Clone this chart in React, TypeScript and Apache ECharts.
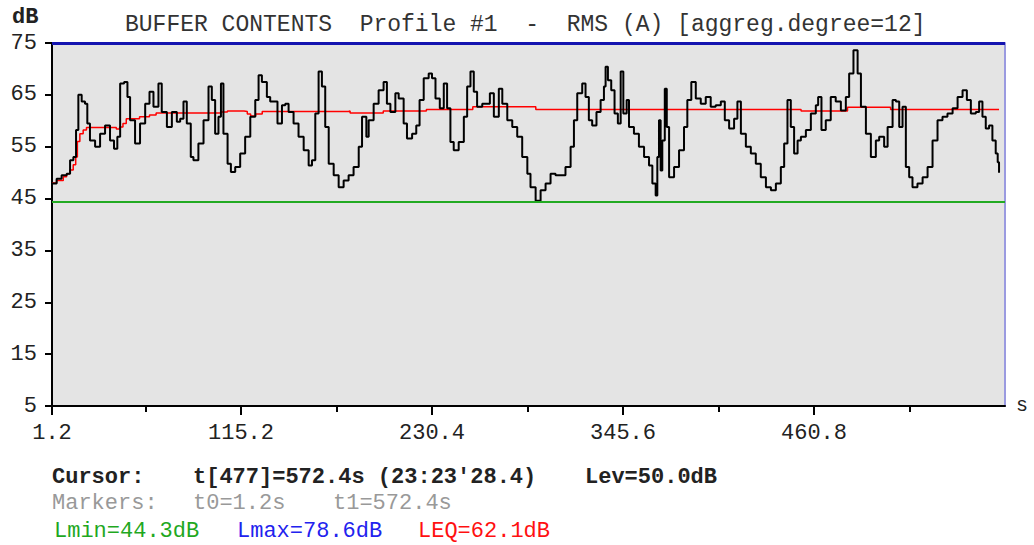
import React, { useEffect, useRef } from "react";
import * as echarts from "echarts";

const FONT = "'Liberation Mono', 'Courier New', monospace";

// Black curve: time (s) and level (dB)
const timeS: number[] = [
  1.2, 4.0, 7.0, 10.1, 12.1, 14.1, 15.7, 17.1, 19.1, 21.1, 22.5, 24.1, 27.2, 30.2, 33.2, 36.2, 38.6, 40.6, 42.3, 44.7,
  46.7, 48.3, 51.3, 54.3, 57.4, 60.0, 62.4, 65.4, 67.4, 70.5, 73.5, 76.5, 78.5, 80.5, 82.5, 84.9, 86.5, 89.5, 92.6, 95.6,
  97.6, 99.6, 101.6, 103.1, 104.6, 107.1, 109.1, 111.7, 114.7, 117.7, 120.8, 123.8, 125.8, 127.8, 130.8, 132.8, 134.8, 137.2, 139.9,
  141.9, 143.9, 146.9, 149.9, 153.0, 156.0, 158.0, 160.0, 162.0, 164.0, 166.0, 168.1, 171.1, 174.1, 177.1, 180.1, 183.1, 186.2,
  188.2, 190.8, 192.2, 195.2, 198.2, 201.2, 203.2, 205.3, 208.3, 210.3, 213.3, 215.3, 218.4, 220.9, 222.9, 225.4, 228.4, 230.4,
  232.5, 235.1, 237.5, 239.5, 241.5, 243.5, 246.5, 249.6, 251.6, 253.6, 255.6, 257.6, 260.7, 262.7, 265.3, 267.7, 270.7, 272.8,
  275.8, 278.8, 281.8, 284.8, 287.9,
  289.8, 292.9, 295.9, 298.9, 301.9, 304.9, 307.9, 310.9, 314.0, 316.0, 318.0, 321.0, 323.0, 325.0, 327.0, 329.6, 332.1, 334.1,
  335.1, 336.5, 338.5, 340.5, 342.5, 344.2, 345.8, 347.8, 349.2, 352.2, 355.2, 358.3, 361.3, 363.3, 365.3, 366.3, 367.3, 368.3,
  369.3, 370.8, 372.0, 373.4, 376.4, 379.4, 382.4, 384.4, 386.8, 389.5, 392.5, 395.5, 398.5, 401.5, 404.6, 407.0, 409.6, 412.6,
  414.6, 416.7, 419.7, 422.7, 425.7, 428.7, 431.8,
  434.8, 437.8, 440.8, 442.8, 444.8, 446.8, 448.8, 450.9, 452.9, 455.9, 458.9, 461.9, 463.3, 465.3, 467.9, 470.9, 473.9, 477.0,
  480.0, 482.0, 484.6, 487.1, 489.1, 492.1, 495.1, 498.1, 500.1, 503.1, 505.2, 508.2, 510.2, 512.2, 514.2, 516.2, 518.2, 520.2,
  523.2, 526.3, 529.3, 532.3, 535.3, 538.3, 541.3, 544.4, 547.4, 550.4, 553.0, 555.4, 558.4, 560.4, 562.4, 564.4, 566.4, 568.4,
  570.4, 571.6, 572.4,
];
const levelDb: number[] = [
  47.9, 48.8, 49.5, 49.8, 52.4, 53.0, 58.2, 65.0, 63.7, 63.3, 59.5, 56.2, 55.0, 57.5, 59.1, 56.2, 54.6, 56.9, 67.2, 67.5,
  64.6, 60.1, 55.6, 59.5, 63.3, 65.6, 62.7, 67.2, 61.7, 58.8, 61.7, 59.8, 60.4, 63.7, 59.5, 53.0, 52.4, 55.6, 60.1, 66.6,
  64.0, 57.5, 60.8, 67.2, 57.5, 51.7, 50.1, 51.1, 53.7, 56.9, 60.8, 64.0, 68.8, 67.5, 64.6, 63.7, 63.7, 59.5, 63.0,
  63.3, 61.7, 59.5, 56.9, 54.3, 51.4, 52.4, 61.4, 69.5, 66.6, 58.8, 51.7, 49.5, 47.2, 48.5, 49.5, 51.1, 55.0,
  60.8, 56.9, 60.1, 63.3, 65.9, 67.5, 63.3, 61.7, 65.3, 64.3, 59.5, 56.6, 57.5, 59.1, 64.0, 68.2, 69.1, 68.2,
  64.3, 62.4, 67.2, 62.4, 55.9, 54.3, 55.9, 60.8, 66.6, 69.5, 65.6, 62.7, 63.3, 63.3, 65.3, 60.8, 66.2, 63.3,
  60.1, 58.8, 56.9, 53.0, 49.8,
  47.2, 44.6, 46.6, 47.9, 49.8, 49.5, 49.5, 51.1, 55.0, 60.1, 65.3, 67.2, 64.6, 60.1, 59.1, 61.7, 64.0, 66.6,
  70.4, 67.8, 65.9, 61.4, 59.5, 69.5, 61.4, 64.0, 58.8, 57.5, 55.0, 53.0, 51.4, 47.9, 45.6, 53.0, 60.1, 50.4,
  56.2, 66.2, 58.8, 49.1, 51.1, 54.3, 58.8, 64.0, 67.5, 64.3, 63.3, 64.6, 62.7, 63.0, 63.7, 60.1, 58.5, 60.4,
  63.7, 57.5, 55.0, 53.7, 51.7, 49.1, 47.2,
  46.6, 47.9, 51.1, 55.6, 64.0, 58.8, 53.7, 56.2, 56.9, 58.2, 61.4, 63.0, 64.6, 58.2, 60.1, 64.6, 63.7, 62.0,
  64.6, 69.1, 73.6, 69.1, 62.7, 57.5, 53.0, 56.2, 56.9, 55.0, 58.8, 64.0, 63.7, 58.8, 62.7, 51.1, 49.1, 47.2,
  47.9, 49.1, 51.1, 56.2, 60.1, 60.8, 61.4, 62.4, 64.6, 65.9, 64.0, 61.4, 61.7, 63.7, 60.8, 58.5, 59.1, 56.2,
  53.7, 52.0, 50.0,
];

// Red running LEQ curve
const leqT: number[] = [
  1.2, 4, 8, 10, 12, 14, 15.5, 16.5, 18, 20, 22, 40, 42, 44, 46, 54, 60, 64, 103, 107, 117, 119, 121, 124, 128,
  180, 181, 200, 201, 226, 227, 254, 255, 292, 293, 452, 453, 480, 481, 506, 507, 572.4,
];
const leqDb: number[] = [
  48.0, 48.5, 49.2, 49.8, 50.5, 51.5, 53.0, 56.0, 57.5, 58.2, 58.7, 58.4, 58.8, 59.5, 60.4, 60.8, 61.1, 61.5, 61.7, 61.9, 61.8, 61.3, 60.9, 61.3, 61.8,
  61.9, 61.5, 61.5, 61.9, 61.9, 62.2, 62.2, 62.7, 62.7, 62.2, 62.2, 61.9, 61.9, 62.6, 62.6, 62.2, 62.1,
];

const LMIN = 44.3;
const Y_TOP = 75;
const xLabelValues = [1.2, 115.2, 230.4, 345.6, 460.8];
const xMinorValues = [57.6, 172.8, 288.0, 403.2, 518.4];
const yLabelValues = [5, 15, 25, 35, 45, 55, 65, 75];

export default function App() {
  const ref = useRef<HTMLDivElement>(null);
  useEffect(() => {
    if (!ref.current) return;
    const chart = echarts.init(ref.current, null, { renderer: "svg" });
    const black = timeS.map((t, i) => [t, levelDb[i]]);
    const red = leqT.map((t, i) => [t, leqDb[i]]);
    const txt = (text: string, x: number, y: number, fill: string, bold = false, size = 22) => ({
      type: "text",
      x,
      y,
      style: { text, fill, fontFamily: FONT, fontSize: size, fontWeight: bold ? "bold" : "normal", verticalAlign: "middle" },
    });
    chart.setOption({
      animation: false,
      backgroundColor: "#ffffff",
      textStyle: { fontFamily: FONT },
      title: {
        text: "BUFFER CONTENTS  Profile #1  -  RMS (A) [aggreg.degree=12]",
        left: 120,
        top: 8,
        textStyle: { fontFamily: FONT, fontSize: 23, fontWeight: "normal", color: "#333" },
      },
      grid: { left: 52, right: 29, top: 43, bottom: 139, show: true, backgroundColor: "#e4e4e4", borderWidth: 0 },
      xAxis: [
        {
          type: "value",
          min: 1.2,
          max: 576,
          axisLine: { onZero: false, lineStyle: { color: "#000", width: 2 } },
          axisTick: { customValues: xLabelValues, length: 9, lineStyle: { color: "#000", width: 2 } },
          axisLabel: {
            customValues: xLabelValues,
            formatter: (v: number) => v.toFixed(1),
            margin: 16,
            fontSize: 22,
            color: "#222",
            fontFamily: FONT,
          },
          splitLine: { show: false },
        },
        {
          type: "value",
          min: 1.2,
          max: 576,
          position: "bottom",
          axisLine: { show: false },
          axisTick: { customValues: xMinorValues, length: 6, lineStyle: { color: "#000", width: 2 } },
          axisLabel: { show: false },
          splitLine: { show: false },
        },
      ],
      yAxis: [
        {
          type: "value",
          min: 5,
          max: 75,
          axisLine: { show: true, onZero: false, lineStyle: { color: "#000", width: 2 } },
          axisTick: { show: true, customValues: yLabelValues, length: 7, lineStyle: { color: "#000", width: 2 } },
          axisLabel: { customValues: yLabelValues, margin: 15, fontSize: 22, color: "#222", fontFamily: FONT, padding: [0, 0, 6, 0] },
          splitLine: { show: false },
        },
        {
          type: "value",
          min: 5,
          max: 75,
          position: "right",
          axisLine: { show: true, lineStyle: { color: "#9a9ae0", width: 2 } },
          axisTick: { show: false },
          axisLabel: { show: false },
          splitLine: { show: false },
        },
      ],
      series: [
        {
          type: "line",
          name: "LEQ",
          data: red,
          step: "end",
          showSymbol: false,
          lineStyle: { color: "#ff0000", width: 1.5 },
          z: 3,
          markLine: {
            silent: true,
            symbol: "none",
            label: { show: false },
            data: [
              { yAxis: LMIN, lineStyle: { color: "#22aa22", width: 2, type: "solid" } },
              { yAxis: Y_TOP, lineStyle: { color: "#1414b0", width: 3, type: "solid" } },
            ],
          },
        },
        {
          type: "line",
          name: "RMS",
          data: black,
          step: "end",
          showSymbol: false,
          lineStyle: { color: "#000", width: 2 },
          z: 4,
        },
      ],
      graphic: [
        txt("dB", 12, 17, "#222", true),
        txt("s", 1016, 405, "#222", false, 20),
        txt("Cursor:", 52, 477, "#222", true),
        txt("t[477]=572.4s (23:23'28.4)", 193, 477, "#222", true),
        txt("Lev=50.0dB", 585, 477, "#222", true),
        txt("Markers:", 52, 503, "#999"),
        txt("t0=1.2s", 193, 503, "#999"),
        txt("t1=572.4s", 333, 503, "#999"),
        txt("Lmin=44.3dB", 54, 531, "#1fa81f"),
        txt("Lmax=78.6dB", 237, 531, "#2222ee"),
        txt("LEQ=62.1dB", 418, 531, "#ff1010"),
      ],
    });
    return () => chart.dispose();
  }, []);
  return <div ref={ref} style={{ position: "fixed", left: 0, top: 0, width: 1034, height: 545 }} />;
}
